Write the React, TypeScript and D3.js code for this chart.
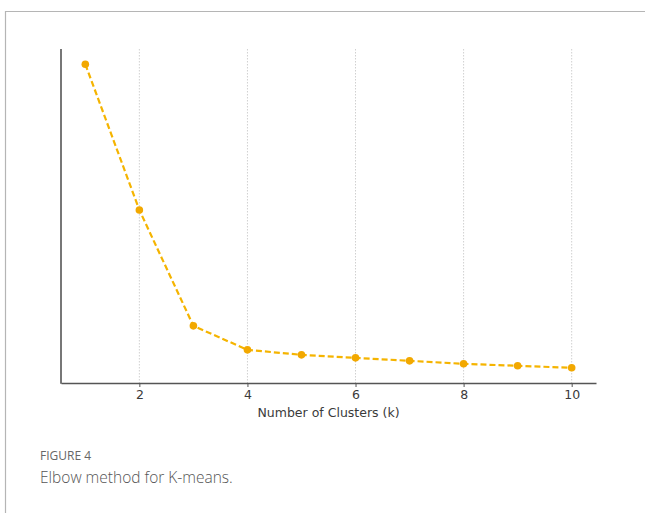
import * as d3 from 'd3';
import React, { useRef, useEffect } from 'react';

// elbow curve values (inertia, arbitrary units)
const clusters = [1, 2, 3, 4, 5, 6, 7, 8, 9, 10];
const inertia = [957, 519, 171, 99, 84, 75, 66, 57, 51, 45];
const xTicks = [2, 4, 6, 8, 10];
const xLabel = 'Number of Clusters (k)';
const figLabel = 'FIGURE 4';
const caption = 'Elbow method for K-means.';

const W = 645;
const H = 513;

function ElbowChart() {
    const ref = useRef<SVGSVGElement>(null);

    useEffect(() => {
        const svg = d3.select(ref.current);
        svg.selectAll('*').remove();

        const margin = { top: 49, right: 49, bottom: 130, left: 61 };

        // card borders
        svg.append('line')
            .attr('x1', 5).attr('x2', W).attr('y1', 11.5).attr('y2', 11.5)
            .attr('stroke', '#b5b5b5').attr('stroke-width', 1.2);
        svg.append('line')
            .attr('x1', 5.5).attr('x2', 5.5).attr('y1', 11).attr('y2', H)
            .attr('stroke', '#b5b5b5').attr('stroke-width', 1.2);

        const xPad = (10 - 1) * 0.05;
        const x = d3.scaleLinear()
            .domain([1 - xPad, 10 + xPad])
            .range([margin.left, W - margin.right]);

        const ext = d3.extent(inertia) as [number, number];
        const yPad = (ext[1] - ext[0]) * 0.05;
        const y = d3.scaleLinear()
            .domain([ext[0] - yPad, ext[1] + yPad])
            .range([H - margin.bottom, margin.top]);

        // vertical dotted grid
        svg.append('g')
            .selectAll('line')
            .data(xTicks)
            .join('line')
            .attr('x1', d => x(d)).attr('x2', d => x(d))
            .attr('y1', margin.top).attr('y2', H - margin.bottom)
            .attr('stroke', '#d0d0d0')
            .attr('stroke-width', 1)
            .attr('stroke-dasharray', '1.5,1.5');

        // x axis
        const xAxis = svg.append('g')
            .attr('transform', `translate(0,${H - margin.bottom})`)
            .call(d3.axisBottom(x).tickValues(xTicks).tickSize(4).tickPadding(3).tickSizeOuter(0));
        xAxis.select('.domain').attr('stroke', '#555').attr('stroke-width', 1.6);
        xAxis.selectAll('.tick line').attr('stroke', '#555');
        xAxis.selectAll('.tick text')
            .attr('fill', '#3a3a3a')
            .attr('font-size', 12.5)
            .attr('font-family', 'DejaVu Sans, sans-serif');

        // y axis (spine only)
        svg.append('line')
            .attr('x1', margin.left).attr('x2', margin.left)
            .attr('y1', margin.top).attr('y2', H - margin.bottom + 0.8)
            .attr('stroke', '#555').attr('stroke-width', 1.6);

        svg.append('text')
            .attr('x', (x.range()[0] + x.range()[1]) / 2)
            .attr('y', H - margin.bottom + 34)
            .attr('text-anchor', 'middle')
            .attr('fill', '#3a3a3a')
            .attr('font-size', 12.5)
            .attr('font-family', 'DejaVu Sans, sans-serif')
            .text(xLabel);

        const pts = clusters.map((k, i) => [k, inertia[i]] as [number, number]);

        svg.append('path')
            .datum(pts)
            .attr('fill', 'none')
            .attr('stroke', '#f5b400')
            .attr('stroke-width', 2.2)
            .attr('stroke-dasharray', '6,3')
            .attr('d', d3.line().x(d => x(d[0])).y(d => y(d[1])));

        svg.append('g')
            .selectAll('circle')
            .data(pts)
            .join('circle')
            .attr('cx', d => x(d[0]))
            .attr('cy', d => y(d[1]))
            .attr('r', 3.8)
            .attr('fill', '#f2a800');

        // caption
        svg.append('text')
            .attr('x', 40).attr('y', 460)
            .attr('fill', '#666')
            .attr('font-size', 12)
            .attr('font-weight', 500)
            .attr('font-family', 'Open Sans, sans-serif')
            .text(figLabel);
        svg.append('text')
            .attr('x', 40).attr('y', 483)
            .attr('fill', '#555')
            .attr('font-size', 15.5)
            .attr('font-weight', 300)
            .attr('font-family', 'Open Sans, sans-serif')
            .text(caption);
    }, []);

    return (
        <svg ref={ref} width={W} height={H}
            style={{ position: 'absolute', left: 0, top: 0, background: '#fff' }} />
    );
}

export default function App() {
    return <ElbowChart />;
}
